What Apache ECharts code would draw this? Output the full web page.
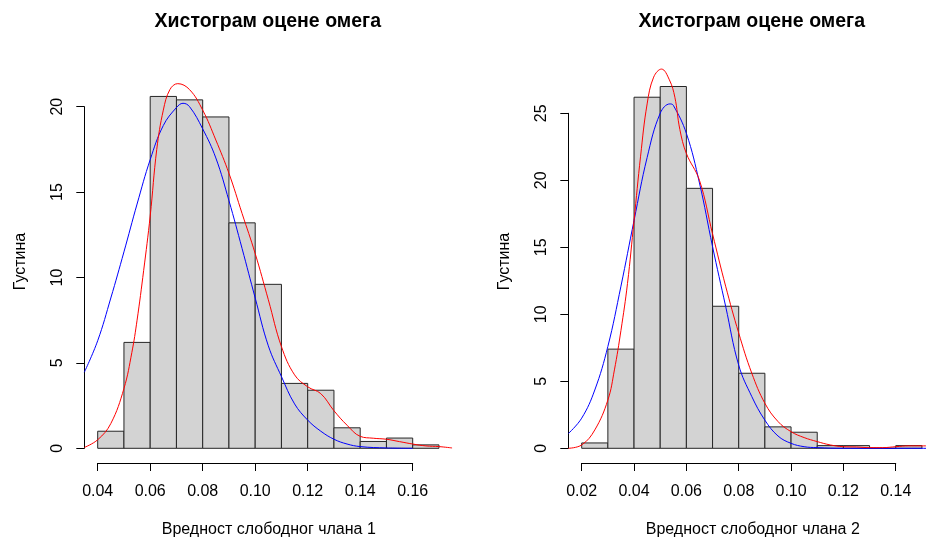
<!DOCTYPE html>
<html>
<head>
<meta charset="utf-8">
<script src="https://cdn.jsdelivr.net/npm/echarts@6/dist/echarts.min.js"></script>
<style>
html,body{margin:0;padding:0;background:#fff;}
#chart{width:926px;height:538px;}
</style>
</head>
<body>
<div id="chart"></div>
<script>
// --- data ---
let binWidth = 0.01;

let binStart1 = 0.04;
let dens1 = [1.0, 6.2, 20.6, 20.4, 19.4, 13.2, 9.6, 3.8, 3.4, 1.2, 0.4, 0.6, 0.2];
let normal1 = [[0.0349,4.45],[0.04,6.3],[0.045,8.8],[0.05,11.5],[0.055,14.3],[0.06,16.9],[0.065,18.9],[0.07,19.95],
  [0.0725,20.2],[0.075,20.0],[0.08,18.7],[0.085,17.0],[0.09,14.5],[0.095,11.7],[0.10,8.8],[0.105,6.0],[0.11,4.2],
  [0.115,2.6],[0.12,1.65],[0.125,1.0],[0.13,0.53],[0.135,0.25],[0.14,0.1],[0.15,0.02],[0.16,0]];
let kernel1 = [[0.0349,0.05],[0.04,0.5],[0.045,1.45],[0.05,3.5],[0.053,5.6],[0.055,7.5],[0.0575,10.4],[0.06,13.6],
  [0.0625,17.5],[0.065,19.8],[0.0675,21.0],[0.0705,21.35],[0.075,21.0],[0.08,19.8],[0.085,18.05],[0.09,16.1],
  [0.095,13.75],[0.10,11.4],[0.105,8.7],[0.11,5.95],[0.115,4.3],[0.12,3.6],[0.125,3.2],[0.13,2.2],[0.135,1.35],
  [0.14,0.7],[0.145,0.59],[0.15,0.53],[0.155,0.39],[0.16,0.25],[0.165,0.14],[0.17,0.1],[0.175,0.02]];
let xTicks1 = [0.04, 0.06, 0.08, 0.10, 0.12, 0.14, 0.16];
let yTicks1 = [0, 5, 10, 15, 20];

let binStart2 = 0.02;
let dens2 = [0.4, 7.4, 26.2, 27.0, 19.4, 10.6, 5.6, 1.6, 1.2, 0.2, 0.2, 0, 0.2];
let normal2 = [[0.0149,1.1],[0.02,2.25],[0.025,4.35],[0.03,7.6],[0.035,12.1],[0.04,17.0],[0.045,21.7],[0.05,25.0],
  [0.0537,25.7],[0.055,25.6],[0.06,23.5],[0.065,19.8],[0.07,15.05],[0.075,10.6],[0.08,6.2],[0.085,3.86],[0.09,2.1],
  [0.095,0.92],[0.10,0.37],[0.105,0.12],[0.11,0.05],[0.12,0],[0.156,0]];
let kernel2 = [[0.0149,0],[0.02,0.25],[0.025,1.37],[0.03,3.6],[0.0325,5.85],[0.035,8.8],[0.0375,12.3],[0.04,17.0],
  [0.0425,21.8],[0.045,25.7],[0.0475,27.7],[0.0505,28.3],[0.0535,27.5],[0.0556,26.2],[0.0575,23.8],[0.06,22.0],
  [0.065,20.0],[0.07,16.0],[0.075,12.1],[0.08,8.6],[0.085,5.6],[0.09,3.36],[0.095,2.0],[0.10,1.24],[0.105,0.8],
  [0.11,0.5],[0.115,0.25],[0.12,0.12],[0.125,0.1],[0.13,0.05],[0.135,0.05],[0.14,0.12],[0.145,0.18],[0.152,0.18]];
let xTicks2 = [0.02, 0.04, 0.06, 0.08, 0.10, 0.12, 0.14];
let yTicks2 = [0, 5, 10, 15, 20, 25];

let titleText = 'Хистограм оцене омега';
let yName = 'Густина';
let xNames = ['Вредност слободног члана 1', 'Вредност слободног члана 2'];

// --- layout (pixels) ---
let font = '"Liberation Sans", Arial, sans-serif';
let plotW = 369, plotTop = 60, axisY = 463;
let panels = [
  {plotLeft: 84.3, x0px: 97.7, pxPerX: 2625, y0px: 448.3, pxPerY: 17.08,
   binStart: binStart1, dens: dens1, normal: normal1, kernel: kernel1, xTicks: xTicks1, yTicks: yTicks1, xName: xNames[0]},
  {plotLeft: 568.3, x0px: 581.7, pxPerX: 2617, y0px: 448.3, pxPerY: 13.4,
   binStart: binStart2, dens: dens2, normal: normal2, kernel: kernel2, xTicks: xTicks2, yTicks: yTicks2, xName: xNames[1]}
];

let grid = [], xAxis = [], yAxis = [], series = [], title = [];
let hidden = {axisLine:{show:false}, axisTick:{show:false}, axisLabel:{show:false}, splitLine:{show:false}};
let lineStyle = {color:'#000', width:1};
let labelStyle = {color:'#000', fontSize:16, fontFamily:font};
let gridBase = {containLabel:false, outerBoundsMode:'none'};

panels.forEach((p, i) => {
  let x0 = p.xTicks[0];
  let xmin = x0 - (p.x0px - p.plotLeft) / p.pxPerX;
  let xmax = xmin + plotW / p.pxPerX;
  let ymin = -(axisY - p.y0px) / p.pxPerY;
  let ymax = (p.y0px - plotTop) / p.pxPerY;
  let xLast = p.xTicks[p.xTicks.length - 1];
  let yLast = p.yTicks[p.yTicks.length - 1];
  let g = i * 3;

  // plot region
  grid.push(Object.assign({left: p.plotLeft, top: plotTop, width: plotW, height: axisY - plotTop}, gridBase));
  xAxis.push(Object.assign({type:'value', gridIndex:g, min:xmin, max:xmax,
    name:p.xName, nameLocation:'middle', nameGap:59,
    nameTextStyle:{color:'#000', fontSize:16, fontFamily:font}}, hidden));
  yAxis.push(Object.assign({type:'value', gridIndex:g, min:ymin, max:ymax,
    name:yName, nameLocation:'middle', nameGap:56,
    nameTextStyle:{color:'#000', fontSize:16, fontFamily:font}}, hidden));

  // x axis, only over the tick range
  grid.push(Object.assign({left: p.x0px, top: axisY - 1, width: (xLast - x0) * p.pxPerX, height: 1}, gridBase));
  xAxis.push({type:'value', gridIndex:g + 1, min:x0, max:xLast, interval:p.xTicks[1] - x0, position:'bottom',
    axisLine:{show:true, lineStyle}, axisTick:{show:true, length:8, lineStyle},
    axisLabel:Object.assign({margin:21, formatter:v => v.toFixed(2), showMinLabel:true, showMaxLabel:true}, labelStyle),
    splitLine:{show:false}});
  yAxis.push(Object.assign({type:'value', gridIndex:g + 1, show:false}, hidden));

  // y axis, only over the tick range
  grid.push(Object.assign({left: p.plotLeft, top: p.y0px - yLast * p.pxPerY, width: 1, height: yLast * p.pxPerY}, gridBase));
  xAxis.push(Object.assign({type:'value', gridIndex:g + 2, show:false}, hidden));
  yAxis.push({type:'value', gridIndex:g + 2, min:0, max:yLast, interval:p.yTicks[1], position:'left',
    axisLine:{show:true, lineStyle}, axisTick:{show:true, length:8, lineStyle},
    axisLabel:Object.assign({margin:19, rotate:90}, labelStyle),
    splitLine:{show:false}});

  series.push({
    type:'custom', xAxisIndex:g, yAxisIndex:g, silent:true,
    data: p.dens.map((d, k) => [p.binStart + k * binWidth, p.binStart + (k + 1) * binWidth, d]),
    encode:{x:[0, 1], y:2},
    renderItem:(params, api) => {
      let a = api.coord([api.value(0), api.value(2)]);
      let b = api.coord([api.value(1), 0]);
      return {type:'rect', shape:{x:a[0], y:a[1], width:b[0] - a[0], height:b[1] - a[1]},
        style:{fill:'#d3d3d3', stroke:'#262626', lineWidth:1}};
    }
  });
  series.push({type:'line', xAxisIndex:g, yAxisIndex:g, data:p.normal, smooth:0.4,
    showSymbol:false, lineStyle:{color:'#0000ff', width:1}, silent:true});
  series.push({type:'line', xAxisIndex:g, yAxisIndex:g, data:p.kernel, smooth:0.4,
    showSymbol:false, lineStyle:{color:'#ff0000', width:1}, silent:true});

  // ECharts pads the title box, pull it back so the text centres on the plot
  title.push({text:titleText, left:p.plotLeft + plotW / 2 - 6, top:7, textAlign:'center',
    textStyle:{color:'#000', fontSize:19.5, fontWeight:'bold', fontFamily:font}});
});

let chart = echarts.init(document.getElementById('chart'), null, {renderer:'canvas'});
chart.setOption({animation:false, backgroundColor:'#fff', title, grid, xAxis, yAxis, series});
</script>
</body>
</html>
